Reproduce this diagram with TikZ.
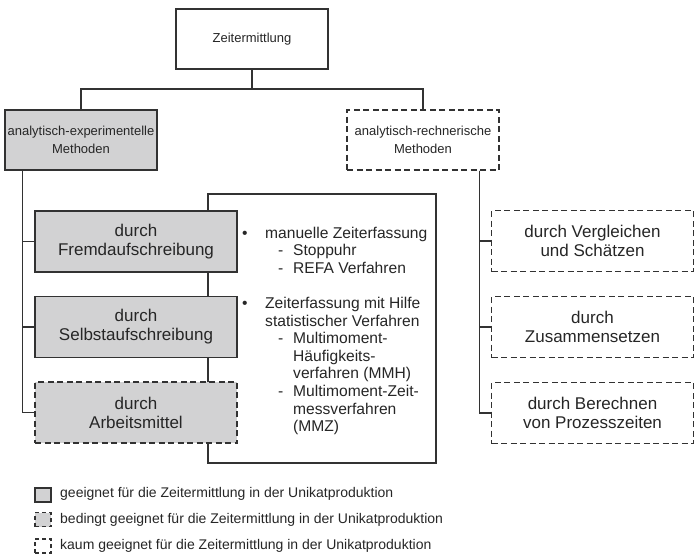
\documentclass[tikz,border=0pt]{standalone}
\usepackage{fontspec}
\setmainfont{Liberation Sans}
\definecolor{lineclr}{RGB}{50,50,50}
\definecolor{boxgray}{RGB}{210,210,211}
\begin{document}
\begin{tikzpicture}[x=1pt,y=-1pt,
  boxbase/.style={draw=lineclr, line width=1.1pt, align=center, inner sep=0pt, text=black!85},
  solidbox/.style={boxbase, fill=boxgray},
  halfbox/.style={boxbase, fill=boxgray, dash pattern=on 6pt off 3.5pt},
  openbox/.style={boxbase, fill=white, dash pattern=on 6pt off 3.5pt},
  plainbox/.style={boxbase, fill=white},
  topsize/.style={minimum width=152pt, minimum height=60pt, font=\fontsize{13}{18.5}\selectfont},
  subsize/.style={minimum width=202pt, minimum height=61pt, font=\fontsize{17}{19}\selectfont},
  keybox/.style={minimum width=16pt, minimum height=14pt},
  keytext/.style={anchor=west, inner sep=0pt, text=black!85, font=\fontsize{14}{16}\selectfont},
  link/.style={draw=lineclr, line width=1.1pt}
]
\useasboundingbox (0,0) rectangle (694,554);

% top level
\node[plainbox, topsize] (root) at (252,39) {Zeitermittlung};
\node[solidbox, topsize] (exp) at (81,140) {analytisch-experimentelle\\Methoden};
\node[openbox, topsize] (calc) at (423,140) {analytisch-rechnerische\\Methoden};

\coordinate (split) at (252,89);
\draw[link] (root.south) -- (split);
\draw[link] (exp.north) |- (split) -| (calc.north);

% frame holding the list of methods
\node[boxbase, fill=white, minimum width=228pt, minimum height=269pt] (frame) at (322,328.5) {};

% experimental branch
\node[solidbox, subsize] (fremd) at (136,241.5) {durch\\Fremdaufschreibung};
\node[solidbox, subsize] (selbst) at (136,327) {durch\\Selbstaufschreibung};
\node[halfbox, subsize] (arbeit) at (136,412.5) {durch\\Arbeitsmittel};

\coordinate (lspine) at ([xshift=18pt]exp.south west);
\draw[link] (lspine) |- (fremd.west);
\draw[link] (lspine) |- (selbst.west);
\draw[link] (lspine) |- (arbeit.west);

% computational branch
\node[openbox, subsize] (vergl) at (592.5,241) {durch Vergleichen\\und Schätzen};
\node[openbox, subsize] (zus) at (592.5,327) {durch\\Zusammensetzen};
\node[openbox, subsize] (berech) at (592.5,413) {durch Berechnen\\von Prozesszeiten};

\coordinate (rspine) at ([xshift=133pt]calc.south west);
\draw[link] (rspine) |- (vergl.west);
\draw[link] (rspine) |- (zus.west);
\draw[link] (rspine) |- (berech.west);

% list of recording techniques
\node[anchor=north west, align=left, inner sep=0pt, text=black!85,
      font=\fontsize{15.6}{17.6}\selectfont] (list) at (242,226.5) {%
\makebox[23pt][l]{\textbullet}manuelle Zeiterfassung\\
\hspace*{36pt}\makebox[15pt][l]{-}Stoppuhr\\
\hspace*{36pt}\makebox[15pt][l]{-}REFA Verfahren\\[17.6pt]
\makebox[23pt][l]{\textbullet}Zeiterfassung mit Hilfe\\
\hspace*{23pt}statistischer Verfahren\\
\hspace*{36pt}\makebox[15pt][l]{-}Multimoment-\\
\hspace*{51pt}Häufigkeits-\\
\hspace*{51pt}verfahren (MMH)\\
\hspace*{36pt}\makebox[15pt][l]{-}Multimoment-Zeit-\\
\hspace*{51pt}messverfahren\\
\hspace*{51pt}(MMZ)};

% legend
\node[solidbox, keybox] (k1) at (43,495) {};
\node[halfbox, keybox, dash pattern=on 4pt off 3pt] (k2) at (43,519.5) {};
\node[openbox, keybox, dash pattern=on 4pt off 3pt] (k3) at (43,546) {};
\node[keytext] (t1) at (60,494) {geeignet für die Zeitermittlung in der Unikatproduktion};
\node[keytext] (t2) at (60,520) {bedingt geeignet für die Zeitermittlung in der Unikatproduktion};
\node[keytext] (t3) at (60,546) {kaum geeignet für die Zeitermittlung in der Unikatproduktion};
\end{tikzpicture}
\end{document}
